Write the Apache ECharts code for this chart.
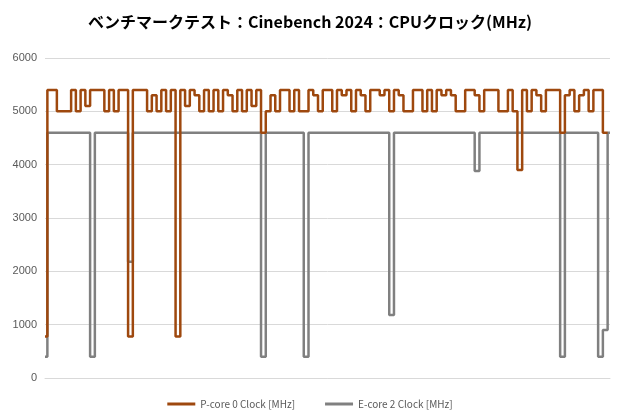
<!DOCTYPE html>
<html><head><meta charset="utf-8">
<script src="https://cdn.jsdelivr.net/npm/echarts@6/dist/echarts.min.js"></script>
<style>html,body{margin:0;padding:0;background:#fff}#c{width:620px;height:420px}</style>
</head><body><div id="c"></div>
<script>
const yTicks = [0,1000,2000,3000,4000,5000,6000];
const pCore = [780,5400,5400,5000,5000,5000,5400,5000,5400,5100,
5400,5400,5400,5000,5400,5000,5400,5400,780,5400,
5400,5400,5000,5300,5000,5400,5000,5400,780,5400,
5100,5400,5300,5000,5400,5000,5400,5000,5400,5300,
5000,5400,5000,5400,5100,5400,4600,5000,5300,5000,
5400,5400,5000,5400,5000,5000,5400,5300,5000,5400,
5400,5000,5400,5300,5400,5000,5400,5300,5000,5400,
5400,5300,5400,5000,5400,5300,5000,5000,5400,5400,
5000,5400,5000,5400,5300,5400,5300,5000,5000,5400,
5400,5300,5000,5400,5400,5400,5000,5000,5400,5000,
3900,5400,5000,5400,5300,5000,5400,5400,5400,4600,
5300,5400,5000,5300,5400,5000,5400,5400,4600,null];
const eCore = [400,4600,4600,4600,4600,4600,4600,4600,4600,4600,
400,4600,4600,4600,4600,4600,4600,4600,2180,4600,
4600,4600,4600,4600,4600,4600,4600,4600,4600,4600,
4600,4600,4600,4600,4600,4600,4600,4600,4600,4600,
4600,4600,4600,4600,4600,4600,400,4600,4600,4600,
4600,4600,4600,4600,4600,400,4600,4600,4600,4600,
4600,4600,4600,4600,4600,4600,4600,4600,4600,4600,
4600,4600,4600,1180,4600,4600,4600,4600,4600,4600,
4600,4600,4600,4600,4600,4600,4600,4600,4600,4600,
4600,3880,4600,4600,4600,4600,4600,4600,4600,4600,
4600,4600,4600,4600,4600,4600,4600,4600,4600,400,
4600,4600,4600,4600,4600,4600,4600,400,900,4600];
const cats = pCore.map((_, i) => String(i + 1));
const chart = echarts.init(document.getElementById('c'));
chart.setOption({
  animation:false,
  title:{text:'ベンチマークテスト：Cinebench 2024：CPUクロック(MHz)',left:'center',top:9,
    textStyle:{fontSize:16,fontWeight:'bold',color:'#000',fontFamily:'Noto Sans CJK JP'}},
  legend:{bottom:6,itemWidth:28,itemHeight:3,itemGap:30,icon:'rect',
    textStyle:{fontSize:10,color:'#595959',fontFamily:'Noto Sans CJK JP'},
    data:['P-core 0 Clock [MHz]','E-core 2 Clock [MHz]']},
  grid:{left:45,right:10,top:58,bottom:42},
  xAxis:{type:'category',data:cats,boundaryGap:false,axisTick:{show:false},axisLabel:{show:false},
    axisLine:{lineStyle:{color:'#d9d9d9'}}},
  yAxis:{type:'value',min:yTicks[0],max:yTicks[yTicks.length-1],interval:1000,
    axisLabel:{fontSize:11,color:'#595959',formatter:v=>String(v)},splitLine:{lineStyle:{color:'#d9d9d9'}}},
  series:[
    {name:'P-core 0 Clock [MHz]',type:'line',step:'middle',data:pCore,symbol:'none',z:3,
      lineStyle:{color:'#9e480e',width:2.5},itemStyle:{color:'#9e480e'}},
    {name:'E-core 2 Clock [MHz]',type:'line',step:'middle',data:eCore,symbol:'none',z:2,
      lineStyle:{color:'#808080',width:2.5},itemStyle:{color:'#808080'}}
  ]
});
</script></body></html>
